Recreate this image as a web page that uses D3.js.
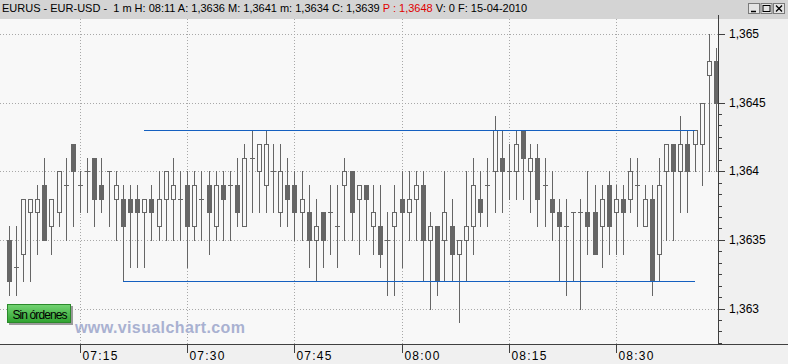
<!DOCTYPE html>
<html>
<head>
<meta charset="utf-8">
<script src="https://cdn.jsdelivr.net/npm/d3@7/dist/d3.min.js"></script>
<style>
  html, body { margin: 0; padding: 0; background: #f0f0f0; }
  svg { display: block; font-family: "Liberation Sans", Arial, sans-serif; }
</style>
</head>
<body>
<div id="chart"></div>
<script>
// EUR-USD, velas de 1 minuto, 15-04-2010 desde las 07:05
const startTime = "2010-04-15 07:05";

const openP = [
  1.3635,1.3633,1.3634,1.3637,1.3637,1.3639,1.3636,1.3637,1.3639,1.3642,
  1.3639,1.3640,1.3641,1.3639,1.3640,1.3638,1.3638,1.3638,1.3638,1.3637,
  1.3638,1.3636,1.3638,1.3638,1.3638,1.3639,1.3636,1.3638,1.3639,1.3636,
  1.3639,1.3639,1.3639,1.3636,1.3641,1.3640,1.3639,1.3640,1.3637,1.3639,
  1.3639,1.3637,1.3637,1.3635,1.3637,1.3637,1.3636,1.3639,1.3640,1.3638,
  1.3639,1.3636,1.3636,1.3635,1.3636,1.3638,1.3637,1.3638,1.3639,1.3635,
  1.3636,1.3635,1.3636,1.3634,1.3635,1.3636,1.3638,1.3639,1.3640,1.3641,
  1.3640,1.3640,1.3643,1.3640,1.3641,1.3639,1.3638,1.3637,1.3636,1.3637,
  1.3637,1.3637,1.3637,1.3636,1.3639,1.3637,1.3638,1.3638,1.3639,1.3636,
  1.3638,1.3634,1.3640,1.3642,1.3640,1.3642,1.3642,1.3642,1.3647,1.3648
];
const highP = [
  1.3636,1.3636,1.3638,1.3638,1.3639,1.3641,1.3638,1.3640,1.3641,1.3642,
  1.3640,1.3641,1.3641,1.3641,1.3640,1.3640,1.3639,1.3639,1.3639,1.3638,
  1.3639,1.3640,1.3640,1.3641,1.3640,1.3640,1.3640,1.3640,1.3640,1.3640,
  1.3640,1.3640,1.3641,1.3642,1.3643,1.3642,1.3643,1.3642,1.3642,1.3641,
  1.3640,1.3640,1.3639,1.3638,1.3637,1.3639,1.3639,1.3641,1.3640,1.3639,
  1.3639,1.3639,1.3639,1.3637,1.3639,1.3640,1.3640,1.3640,1.3640,1.3637,
  1.3636,1.3640,1.3638,1.3635,1.3640,1.3641,1.3640,1.3641,1.3644,1.3643,
  1.3642,1.3643,1.3643,1.3642,1.3642,1.3641,1.3640,1.3638,1.3638,1.3637,
  1.3638,1.3640,1.3639,1.3639,1.3640,1.3639,1.3639,1.3641,1.3641,1.3639,
  1.3639,1.3641,1.3642,1.3642,1.3644,1.3643,1.3643,1.3645,1.3650,1.3649
];
const lowP = [
  1.3631,1.3631,1.3632,1.3632,1.3634,1.3635,1.3634,1.3636,1.3635,1.3636,
  1.3637,1.3637,1.3636,1.3637,1.3636,1.3635,1.3632,1.3633,1.3633,1.3633,
  1.3635,1.3635,1.3635,1.3635,1.3635,1.3633,1.3635,1.3635,1.3634,1.3635,
  1.3635,1.3635,1.3636,1.3636,1.3637,1.3637,1.3637,1.3637,1.3636,1.3636,
  1.3635,1.3635,1.3633,1.3632,1.3633,1.3634,1.3633,1.3635,1.3635,1.3634,
  1.3635,1.3634,1.3633,1.3631,1.3631,1.3633,1.3635,1.3635,1.3632,1.3630,
  1.3631,1.3632,1.3632,1.3629,1.3632,1.3634,1.3636,1.3636,1.3637,1.3637,
  1.3638,1.3638,1.3638,1.3637,1.3636,1.3636,1.3635,1.3632,1.3631,1.3632,
  1.3630,1.3634,1.3634,1.3633,1.3634,1.3634,1.3634,1.3637,1.3636,1.3636,
  1.3631,1.3632,1.3635,1.3635,1.3637,1.3637,1.3640,1.3639,1.3640,1.3640
];
const closeP = [
  1.3632,1.3633,1.3638,1.3638,1.3638,1.3635,1.3638,1.3640,1.3639,1.3640,
  1.3639,1.3640,1.3638,1.3638,1.3640,1.3639,1.3636,1.3637,1.3637,1.3638,
  1.3637,1.3638,1.3640,1.3639,1.3638,1.3636,1.3639,1.3638,1.3637,1.3639,
  1.3638,1.3639,1.3637,1.3641,1.3641,1.3642,1.3642,1.3640,1.3640,1.3638,
  1.3637,1.3638,1.3635,1.3636,1.3635,1.3637,1.3636,1.3640,1.3637,1.3639,
  1.3638,1.3637,1.3634,1.3635,1.3637,1.3637,1.3638,1.3639,1.3635,1.3636,
  1.3632,1.3637,1.3634,1.3635,1.3636,1.3639,1.3637,1.3639,1.3643,1.3640,
  1.3640,1.3642,1.3641,1.3641,1.3638,1.3639,1.3637,1.3636,1.3636,1.3637,
  1.3637,1.3636,1.3634,1.3638,1.3636,1.3638,1.3637,1.3640,1.3639,1.3638,
  1.3632,1.3639,1.3642,1.3640,1.3642,1.3640,1.3643,1.3645,1.3648,1.3645
];

// ejes
const yTicks = [1.363, 1.3635, 1.364, 1.3645, 1.365];
const xTickTimes = ["07:15", "07:30", "07:45", "08:00", "08:15", "08:30"];

// líneas horizontales dibujadas (resistencia / soporte)
const levelPrices = [1.3643, 1.3632];
const levelFrom = ["07:24", "07:21"];
const levelTo = ["08:41", "08:41"];

// cabecera
const titleMain = "EURUS - EUR-USD -  1 m H: 08:11 A: 1,3636 M: 1,3641 m: 1,3634 C: 1,3639 ";
const titleLast = "P : 1,3648";
const titleTail = " V: 0 F: 15-04-2010";

const W = 788, H = 364;
const plotTop = 19, plotBottom = 344, plotRight = 718;
const ink = "#666666";

const parseT = d3.timeParse("%Y-%m-%d %H:%M");
const atTime = s => parseT("2010-04-15 " + s);
const t0 = parseT(startTime);

const candles = openP.map((o, i) => ({
  t: d3.timeMinute.offset(t0, i),
  o, h: highP[i], l: lowP[i], c: closeP[i]
}));

const svg = d3.create("svg")
  .attr("width", W)
  .attr("height", H)
  .attr("viewBox", [0, 0, W, H]);
d3.select("#chart").append(() => svg.node());

// escalas
const x = d3.scaleTime()
  .domain([atTime("07:15"), atTime("08:30")])
  .range([80, 616])
  .interpolate(d3.interpolateRound);

const y = d3.scaleLinear()
  .domain([1.363, 1.365])
  .range([308.5, 34]);
const py = v => Math.round(y(v));

// fondos
svg.append("rect").attr("width", W).attr("height", H).attr("fill", "#f0f0f0");
svg.append("rect").attr("x", 0).attr("y", plotTop)
  .attr("width", plotRight).attr("height", plotBottom - plotTop)
  .attr("fill", "#f8f8f8");
svg.append("rect").attr("width", W).attr("height", plotTop).attr("fill", "#d4d4d4");

svg.append("defs").append("clipPath").attr("id", "plotClip")
  .append("rect").attr("x", 0).attr("y", plotTop)
  .attr("width", plotRight).attr("height", plotBottom - plotTop);

const plot = svg.append("g").attr("clip-path", "url(#plotClip)");

// rejilla punteada
plot.append("g").selectAll("line").data(yTicks).join("line")
  .attr("x1", 0).attr("x2", plotRight)
  .attr("y1", d => py(d) + 0.5).attr("y2", d => py(d) + 0.5)
  .attr("stroke", "#a8a8a8").attr("stroke-dasharray", "1,2");

plot.append("g").selectAll("line").data(xTickTimes).join("line")
  .attr("x1", d => x(atTime(d)) + 0.5).attr("x2", d => x(atTime(d)) + 0.5)
  .attr("y1", plotTop).attr("y2", plotBottom)
  .attr("stroke", "#a8a8a8").attr("stroke-dasharray", "1,2");

// velas
const cg = plot.append("g").selectAll("g").data(candles).join("g")
  .attr("transform", d => `translate(${x(d.t) + 0.5},0)`);

cg.append("line")
  .attr("y1", d => py(d.h)).attr("y2", d => py(d.l) + 1)
  .attr("stroke", ink);

cg.filter(d => d.c < d.o).append("rect")
  .attr("x", -2.5).attr("width", 5)
  .attr("y", d => py(d.o)).attr("height", d => py(d.c) - py(d.o) + 1)
  .attr("fill", ink);

cg.filter(d => d.c > d.o).append("rect")
  .attr("x", -2).attr("width", 4)
  .attr("y", d => py(d.c) + 0.5).attr("height", d => py(d.o) - py(d.c))
  .attr("fill", "#f8f8f8").attr("stroke", ink);

cg.filter(d => d.c === d.o).append("line")
  .attr("x1", -2.5).attr("x2", 2.5)
  .attr("y1", d => py(d.c) + 0.5).attr("y2", d => py(d.c) + 0.5)
  .attr("stroke", ink);

// líneas horizontales
plot.append("g").selectAll("line").data(levelPrices).join("line")
  .attr("x1", (d, i) => x(atTime(levelFrom[i])))
  .attr("x2", (d, i) => x(atTime(levelTo[i])))
  .attr("y1", d => py(d) + 0.5).attr("y2", d => py(d) + 0.5)
  .attr("stroke", "#1560c0");

// marca de agua
svg.append("text")
  .attr("x", 75).attr("y", 333)
  .attr("font-size", 16).attr("font-weight", "bold")
  .attr("fill", "#a9b1d1")
  .attr("textLength", 170)
  .text("www.visualchart.com");

// botón "Sin órdenes"
svg.append("rect").attr("x", 9).attr("y", 306).attr("width", 64).attr("height", 19).attr("fill", "#9a9a9a");
const grad = svg.select("defs").append("linearGradient")
  .attr("id", "btnGreen").attr("x1", 0).attr("y1", 0).attr("x2", 0).attr("y2", 1);
grad.append("stop").attr("offset", 0).attr("stop-color", "#74d474");
grad.append("stop").attr("offset", 1).attr("stop-color", "#2fa32f");
svg.append("rect").attr("x", 7.5).attr("y", 304.5).attr("width", 63).attr("height", 18)
  .attr("fill", "url(#btnGreen)").attr("stroke", "#2b8a2b");
svg.append("text").attr("x", 12.5).attr("y", 318.5)
  .attr("font-size", 12).attr("fill", "#000")
  .attr("textLength", 55)
  .text("Sin órdenes");

// eje X
svg.append("line").attr("x1", 0).attr("x2", W)
  .attr("y1", plotBottom + 0.5).attr("y2", plotBottom + 0.5)
  .attr("stroke", "#404040");

svg.append("g")
  .attr("transform", `translate(0,${plotBottom})`)
  .call(d3.axisBottom(x)
    .tickValues(xTickTimes.map(atTime))
    .tickSize(9)
    .tickFormat(d3.timeFormat("%H:%M")))
  .call(g => g.select(".domain").remove())
  .call(g => g.selectAll(".tick line").attr("stroke", "#404040"))
  .call(g => g.selectAll(".tick text")
    .attr("x", 2).attr("y", 16).attr("dy", 0)
    .attr("text-anchor", "start")
    .attr("fill", "#000")
    .attr("font-family", "Liberation Sans, Arial, sans-serif")
    .attr("font-size", 12)
    .attr("letter-spacing", 1.2));

// eje Y
svg.append("line").attr("x1", plotRight + 0.5).attr("x2", plotRight + 0.5)
  .attr("y1", plotTop - 4).attr("y2", plotBottom)
  .attr("stroke", "#404040");

const minorTicks = d3.range(0, 25).map(k => 1.3625 + k * 0.0005 / 6)
  .filter(v => py(v) > plotTop && py(v) < plotBottom);

svg.append("g")
  .attr("transform", `translate(${plotRight},0)`)
  .call(d3.axisRight(y).tickValues(minorTicks).tickSize(4).tickFormat(""))
  .call(g => g.select(".domain").remove())
  .call(g => g.selectAll(".tick").attr("transform", d => `translate(0,${py(d) + 0.5})`))
  .call(g => g.selectAll(".tick line").attr("stroke", "#404040"));

svg.append("g")
  .attr("transform", `translate(${plotRight},0)`)
  .call(d3.axisRight(y).tickValues(yTicks).tickSize(7).tickPadding(4)
    .tickFormat(d => d3.format(".4~f")(d).replace(".", ",")))
  .call(g => g.select(".domain").remove())
  .call(g => g.selectAll(".tick").attr("transform", d => `translate(0,${py(d) + 0.5})`))
  .call(g => g.selectAll(".tick line").attr("stroke", "#404040"))
  .call(g => g.selectAll(".tick text")
    .attr("fill", "#000")
    .attr("font-family", "Liberation Sans, Arial, sans-serif")
    .attr("font-size", 12));

// cabecera
const title = svg.append("text").attr("x", 2).attr("y", 12).attr("font-size", 11)
  .attr("xml:space", "preserve").style("white-space", "pre");
title.append("tspan").attr("fill", "#000").text(titleMain);
title.append("tspan").attr("fill", "#e00000").text(titleLast);
title.append("tspan").attr("fill", "#000").text(titleTail);

// botones de ventana
const winBtns = ["min", "max", "close"];
const bg = svg.append("g").selectAll("g").data(winBtns).join("g")
  .attr("transform", (d, i) => `translate(${748 + i * 12.5},3)`);
bg.append("rect").attr("x", 0.5).attr("y", 0.5).attr("width", 11).attr("height", 10)
  .attr("fill", "#e4e4e4").attr("stroke", "#7a7a7a");
bg.filter(d => d === "min").append("line")
  .attr("x1", 3).attr("x2", 8).attr("y1", 8.5).attr("y2", 8.5).attr("stroke", "#000").attr("stroke-width", 1.5);
bg.filter(d => d === "max").append("rect")
  .attr("x", 2.5).attr("y", 2.5).attr("width", 7).attr("height", 6)
  .attr("fill", "none").attr("stroke", "#000");
bg.filter(d => d === "close").append("path")
  .attr("d", "M3,2.5L9,8.5M9,2.5L3,8.5").attr("stroke", "#000").attr("stroke-width", 1.3);
</script>
</body>
</html>
